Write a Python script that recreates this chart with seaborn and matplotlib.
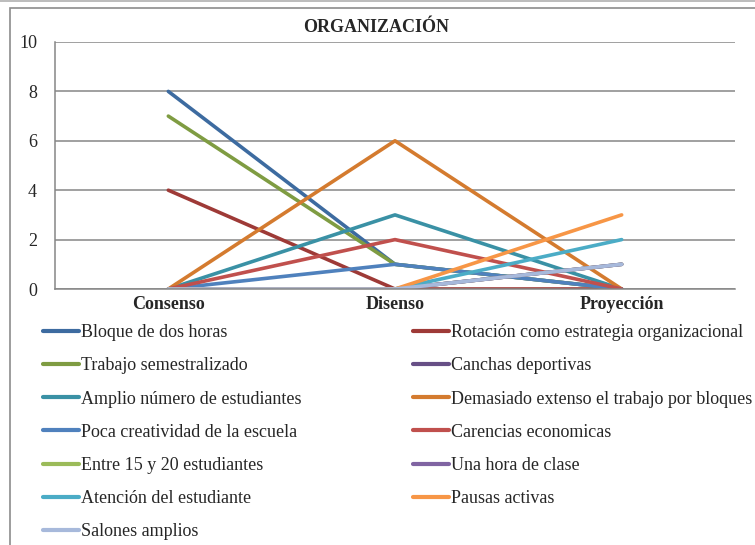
import numpy as np
import pandas as pd
import matplotlib
matplotlib.use('Agg')
import matplotlib.pyplot as plt
from matplotlib.patches import Rectangle
from matplotlib.lines import Line2D
import seaborn as sns

# data
categorias = ['Consenso', 'Disenso', 'Proyección']
series = [
    'Bloque de dos horas',
    'Rotación como estrategia organizacional',
    'Trabajo semestralizado',
    'Canchas deportivas',
    'Amplio número de estudiantes',
    'Demasiado extenso el trabajo por bloques',
    'Poca creatividad de la escuela',
    'Carencias economicas',
    'Entre 15 y 20 estudiantes',
    'Una hora de clase',
    'Atención del estudiante',
    'Pausas activas',
    'Salones amplios',
]
bloque = [8, 1, 0]
rotacion = [4, 0, 0]
trabajo = [7, 1, 0]
canchas = [0, 0, 1]
amplio = [0, 3, 0]
demasiado = [0, 6, 0]
poca = [0, 1, 0]
carencias = [0, 2, 0]
entre = [0, 0, 1]
una_hora = [0, 0, 1]
atencion = [0, 0, 2]
pausas = [0, 0, 3]
salones = [0, 0, 1]
valores = [bloque, rotacion, trabajo, canchas, amplio, demasiado, poca,
           carencias, entre, una_hora, atencion, pausas, salones]
colores = ['#3D6BA0', '#9E3A37', '#7F9C42', '#674F86', '#3A91A5', '#D47B2F',
           '#4F81BD', '#C0504D', '#9BBB59', '#8064A2', '#4BACC6', '#F79646',
           '#A7B9DB']

rows = []
for s, vals in zip(series, valores):
    for c, v in zip(categorias, vals):
        rows.append({'serie': s, 'categoria': c, 'valor': v})
df = pd.DataFrame(rows)

sns.set_theme(style='white')
plt.rcParams['font.family'] = ['Liberation Serif', 'DejaVu Serif']

fig = plt.figure(figsize=(7.55, 5.45), dpi=100)
ax = fig.add_axes([55 / 755, 1 - 289 / 545, 680 / 755, 247 / 545])

sns.lineplot(data=df, x='categoria', y='valor', hue='serie', hue_order=series,
             palette=colores, linewidth=2.6, sort=False, legend=False, ax=ax)

ax.set_xlim(-0.5, 2.5)
ax.set_ylim(0, 10)
ax.set_yticks(np.arange(0, 11, 2))
ax.set_xticks(range(len(categorias)))
ax.set_xticklabels(categorias, fontweight='bold', fontsize=13)
ax.set_xticks([-0.5, 0.5, 1.5, 2.5], minor=True)
ax.tick_params(axis='x', which='major', length=0, pad=5)
ax.tick_params(axis='x', which='minor', length=4, color='#868686', direction='out')
ax.tick_params(axis='y', length=5, color='#868686', labelsize=13, pad=8)
ax.set_xlabel('')
ax.set_ylabel('')
ax.grid(axis='y', color='#868686', linewidth=1.1)
ax.set_axisbelow(True)
for side in ['top', 'right']:
    ax.spines[side].set_visible(False)
for side in ['left', 'bottom']:
    ax.spines[side].set_color('#868686')
    ax.spines[side].set_linewidth(1.1)

fig.text(376 / 755, 1 - 28 / 545, 'ORGANIZACIÓN', ha='center', va='center',
         fontsize=13, fontweight='bold')

# legend in two columns, filled row by row
handles = [Line2D([], [], color=c, linewidth=3) for c in colores]
orden = list(range(0, 13, 2)) + list(range(1, 13, 2))
fig.legend([handles[i] for i in orden], [series[i] for i in orden],
           loc='upper left', bbox_to_anchor=(43 / 755, 1 - 324 / 545),
           ncol=2, frameon=False, fontsize=13, handlelength=2.0,
           handletextpad=0.12, labelspacing=0.9, columnspacing=6.15,
           borderaxespad=0, borderpad=0)

# outer chart border
fig.patches.append(Rectangle((10 / 755, -0.05), 1, 1 - 8 / 545 + 0.05,
                             transform=fig.transFigure, fill=False,
                             edgecolor='#8c8c8c', linewidth=1.2))
fig.patches.append(Rectangle((0, 1 - 2 / 545), 1, 2 / 545,
                             transform=fig.transFigure, facecolor='#bdbdbd',
                             edgecolor='none'))

fig.savefig('out.png', dpi=100)
